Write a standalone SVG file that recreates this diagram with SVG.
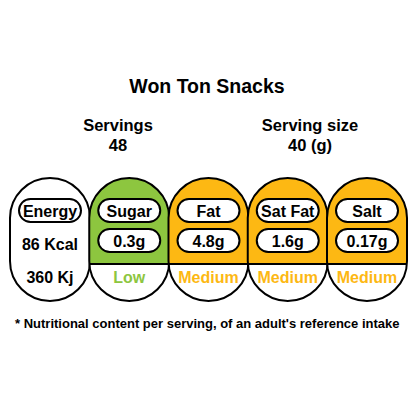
<svg xmlns="http://www.w3.org/2000/svg" width="414" height="414" viewBox="0 0 414 414">
<defs>
<clipPath id="colclip"><rect x="0" y="0" width="80" height="123" rx="40" ry="40"/></clipPath>
</defs>
<style>
text{font-family:"Liberation Sans",Arial,sans-serif;font-weight:bold;text-anchor:middle;fill:#000}
.t{font-size:19.5px}
.h{font-size:16.5px}
.c{font-size:16px}
.f{font-size:13px;text-anchor:start}
.outline{fill:none;stroke:#000;stroke-width:2}
.pill{fill:#fff;stroke:#000;stroke-width:2}
.div{stroke:#000;stroke-width:2}
.green{fill:#8DC63F}
.amber{fill:#FDB813}
.low{fill:#8DC63F}
.med{fill:#FDB813}
</style>
<rect width="414" height="414" fill="#fff"/>
<g id="title"><text class="t" x="207" y="93">Won Ton Snacks</text></g>
<g id="servings"><text class="h" x="118" y="131">Servings</text><text class="h" x="118" y="151">48</text></g>
<g id="serving-size"><text class="h" x="310" y="131">Serving size</text><text class="h" x="310" y="151">40 (g)</text></g>

<g id="energy" transform="translate(10,178)">
<rect x="0" y="0" width="80" height="123" rx="40" fill="#fff"/>
<rect class="pill" x="9" y="21" width="62" height="23" rx="11.5"/>
<text class="c" x="40" y="38.5">Energy</text>
<text class="c" x="40" y="72">86 Kcal</text>
<text class="c" x="40" y="105">360 Kj</text>
<rect class="outline" x="0" y="0" width="80" height="123" rx="40"/>
</g>

<g id="sugar" transform="translate(89.25,178)">
<rect x="0" y="0" width="80" height="123" rx="40" fill="#fff"/>
<g clip-path="url(#colclip)"><rect class="green" x="0" y="0" width="80" height="86"/></g>
<line class="div" x1="0" y1="86" x2="80" y2="86"/>
<rect class="pill" x="9" y="21" width="62" height="23" rx="11.5"/>
<text class="c" x="40" y="38.5">Sugar</text>
<rect class="pill" x="9" y="51" width="62" height="23" rx="11.5"/>
<text class="c" x="40" y="68.5">0.3g</text>
<text class="c low" x="40" y="105">Low</text>
<rect class="outline" x="0" y="0" width="80" height="123" rx="40"/>
</g>

<g id="fat" transform="translate(168.5,178)">
<rect x="0" y="0" width="80" height="123" rx="40" fill="#fff"/>
<g clip-path="url(#colclip)"><rect class="amber" x="0" y="0" width="80" height="86"/></g>
<line class="div" x1="0" y1="86" x2="80" y2="86"/>
<rect class="pill" x="9" y="21" width="62" height="23" rx="11.5"/>
<text class="c" x="40" y="38.5">Fat</text>
<rect class="pill" x="9" y="51" width="62" height="23" rx="11.5"/>
<text class="c" x="40" y="68.5">4.8g</text>
<text class="c med" x="40" y="105">Medium</text>
<rect class="outline" x="0" y="0" width="80" height="123" rx="40"/>
</g>

<g id="satfat" transform="translate(247.75,178)">
<rect x="0" y="0" width="80" height="123" rx="40" fill="#fff"/>
<g clip-path="url(#colclip)"><rect class="amber" x="0" y="0" width="80" height="86"/></g>
<line class="div" x1="0" y1="86" x2="80" y2="86"/>
<rect class="pill" x="9" y="21" width="62" height="23" rx="11.5"/>
<text class="c" x="40" y="38.5">Sat Fat</text>
<rect class="pill" x="9" y="51" width="62" height="23" rx="11.5"/>
<text class="c" x="40" y="68.5">1.6g</text>
<text class="c med" x="40" y="105">Medium</text>
<rect class="outline" x="0" y="0" width="80" height="123" rx="40"/>
</g>

<g id="salt" transform="translate(327,178)">
<rect x="0" y="0" width="80" height="123" rx="40" fill="#fff"/>
<g clip-path="url(#colclip)"><rect class="amber" x="0" y="0" width="80" height="86"/></g>
<line class="div" x1="0" y1="86" x2="80" y2="86"/>
<rect class="pill" x="9" y="21" width="62" height="23" rx="11.5"/>
<text class="c" x="40" y="38.5">Salt</text>
<rect class="pill" x="9" y="51" width="62" height="23" rx="11.5"/>
<text class="c" x="40" y="68.5">0.17g</text>
<text class="c med" x="40" y="105">Medium</text>
<rect class="outline" x="0" y="0" width="80" height="123" rx="40"/>
</g>

<g id="footnote"><text class="f" x="15" y="328">* Nutritional content per serving, of an adult's reference intake</text></g>
</svg>
